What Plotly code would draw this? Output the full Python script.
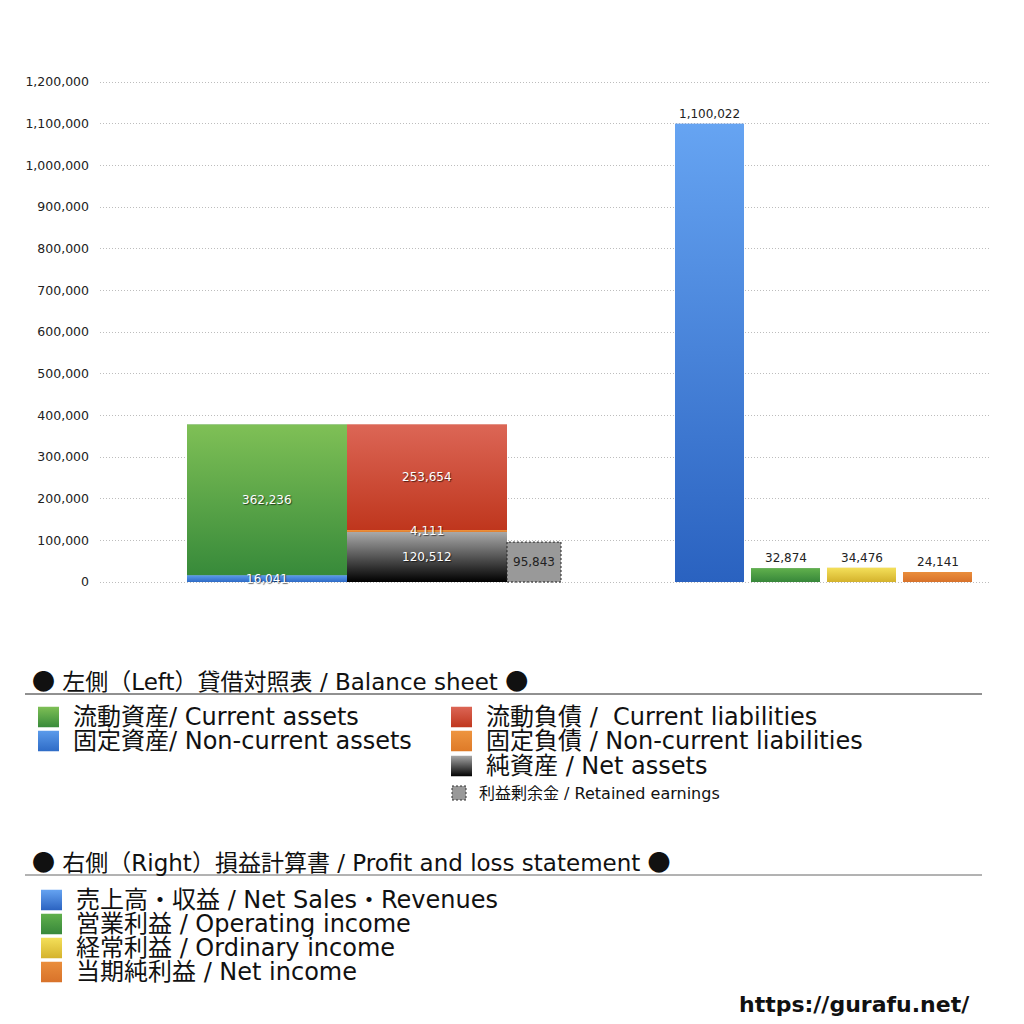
import base64
import numpy as np
import plotly.graph_objects as go

# Data (values in the chart)
bs_assets_labels = ["固定資産/ Non-current assets", "流動資産/ Current assets"]
bs_assets_values = [16041, 362236]
bs_liab_labels = ["純資産 / Net assets", "固定負債 / Non-current liabilities", "流動負債 /  Current liabilities"]
bs_liab_values = [120512, 4111, 253654]
retained_label = "利益剰余金 / Retained earnings"
retained_value = 95843
pl_labels = ["売上高・収益 / Net Sales・Revenues", "営業利益 / Operating income",
             "経常利益 / Ordinary income", "当期純利益 / Net income"]
pl_values = [1100022, 32874, 34476, 24141]
y_ticks = list(range(0, 1200001, 100000))

# Styles: (top colour, bottom colour) of each gradient
FONT = "DejaVu Sans, Noto Sans CJK JP"
g_assets = [("#5b9beb", "#2e6bc6"), ("#7fc056", "#378a3a")]
g_liab = [("#aaaaaa", "#000000"), ("#ee9540", "#de7a28"), ("#dc6656", "#bf361d")]
c_retained = "#999999"
g_pl = [("#66a4f2", "#2a62c0"), ("#60b04c", "#37873a"), ("#f4e05a", "#d4b22c"), ("#ea8e3c", "#d8722a")]

# page body has an 8px margin, so the figure is 1008px and positions are shifted
OFF = 8
W = H = 1024 - 2 * OFF


def px(x):
    return (x - OFF) / W


def py(y):
    return 1 - (y - OFF) / H


def grad(top, bottom):
    svg = ('<svg xmlns="http://www.w3.org/2000/svg" viewBox="0 0 1 1" preserveAspectRatio="none">'
           '<defs><linearGradient id="g" x1="0" y1="0" x2="0" y2="1">'
           f'<stop offset="0" stop-color="{top}"/><stop offset="1" stop-color="{bottom}"/>'
           '</linearGradient></defs><rect x="0" y="0" width="1" height="1" fill="url(#g)"/></svg>')
    return "data:image/svg+xml;base64," + base64.b64encode(svg.encode()).decode()


def mid(g):
    a = [int(g[0][i:i + 2], 16) for i in (1, 3, 5)]
    b = [int(g[1][i:i + 2], 16) for i in (1, 3, 5)]
    return "#" + "".join(f"{(p + q) // 2:02x}" for p, q in zip(a, b))


# x axis expressed in pixel-like layout units
x_assets, w_big = 267, 160
x_liab = 427
x_ret, w_ret = 534, 54
x_pl = [709.5, 785.5, 861.5, 937.5]
w_pl = 69

# y axis: 0 at 582px, 1,200,000 at 82px, padded a little so the end gridlines show
y_max = 1200000
pad = y_max * 4 / 500

fig = go.Figure()

NUMFONT = "DejaVu Sans"
white_txt = dict(color="white", size=12, family=NUMFONT, shadow="1px 1px 1px rgba(0,0,0,0.6)")
dark_txt = dict(color="#222", size=12, family=NUMFONT)


def bar(xc, w, v, b, g, name, label_font, outside=False):
    fig.add_trace(go.Bar(x=[xc], y=[v], base=[b], width=[w], marker=dict(color=mid(g), line_width=0),
                         name=name, showlegend=False, hoverinfo="skip"))
    # gradient fill laid over the bar, on the same axes
    fig.add_layout_image(source=grad(*g), xref="x", yref="y", x=xc - w / 2, y=b + v, sizex=w, sizey=v,
                         xanchor="left", yanchor="top", sizing="stretch", layer="above")
    if outside:
        fig.add_annotation(x=xc, y=b + v, xref="x", yref="y", text=f"{v:,}", showarrow=False,
                           yanchor="bottom", yshift=1, font=label_font)
    else:
        fig.add_annotation(x=xc, y=b + v / 2, xref="x", yref="y", text=f"{v:,}", showarrow=False,
                           yanchor="middle", font=label_font)


# assets stack
base = np.concatenate([[0], np.cumsum(bs_assets_values)[:-1]])
for v, b, g, n in zip(bs_assets_values, base, g_assets, bs_assets_labels):
    bar(x_assets, w_big, v, b, g, n, white_txt)

# liabilities + net assets stack
base = np.concatenate([[0], np.cumsum(bs_liab_values)[:-1]])
for v, b, g, n in zip(bs_liab_values, base, g_liab, bs_liab_labels):
    bar(x_liab, w_big, v, b, g, n, white_txt)

# retained earnings (flat grey, dashed outline)
fig.add_trace(go.Bar(x=[x_ret], y=[retained_value], width=[w_ret], marker=dict(color=c_retained, line_width=0),
                     text=[f"{retained_value:,}"], textposition="inside", insidetextanchor="middle",
                     constraintext="none", textfont=dark_txt,
                     name=retained_label, showlegend=False, hoverinfo="skip"))
fig.add_shape(type="rect", xref="x", yref="y", x0=x_ret - w_ret / 2, x1=x_ret + w_ret / 2,
              y0=0, y1=retained_value, line=dict(color="#222", width=1, dash="2px,2px"))

# profit and loss
for xc, v, g, n in zip(x_pl, pl_values, g_pl, pl_labels):
    bar(xc, w_pl, v, 0, g, n, dark_txt, outside=True)

fig.update_layout(
    width=W, height=H, margin=dict(l=0, r=0, t=0, b=0),
    paper_bgcolor="white", plot_bgcolor="white",
    barmode="overlay", font=dict(family=FONT, color="#222"),
    xaxis=dict(domain=[px(100), px(990)], range=[100, 990], showticklabels=False, showgrid=False,
               zeroline=False, fixedrange=True),
    yaxis=dict(domain=[py(586), py(78)], range=[-pad, y_max + pad], tickvals=y_ticks, tickformat=",d",
               showgrid=True, gridcolor="#bdbdbd", griddash="1px,2px", gridwidth=1, zeroline=False,
               tickfont=dict(size=12.5, color="#222", family=NUMFONT), ticklabelstandoff=10,
               automargin=False),
)

DOT = '<span style="font-family:Noto Sans CJK JP">●</span>'


# custom legend
def header(text, y, line_color):
    fig.add_annotation(x=px(30), y=py(y), xref="paper", yref="paper", text=f"{DOT} {text} {DOT}",
                       showarrow=False, xanchor="left", yanchor="middle", font=dict(size=23, color="#111"))
    fig.add_shape(type="line", xref="paper", yref="paper", x0=px(25), x1=px(982),
                  y0=py(y + 14), y1=py(y + 14), line=dict(color=line_color, width=1))


def item(text, x_sq, y, g, size=24, sq=21):
    fig.add_layout_image(source=grad(*g), xref="paper", yref="paper", x=px(x_sq), y=py(y - sq / 2),
                         sizex=sq / W, sizey=sq / H, xanchor="left", yanchor="top", sizing="stretch",
                         layer="above")
    fig.add_annotation(x=px(x_sq + sq + 12), y=py(y), xref="paper", yref="paper",
                       text=text, showarrow=False, xanchor="left", yanchor="middle",
                       font=dict(size=size, color="#111"))


header("左側（Left）貸借対照表 / Balance sheet", 680, "#222")
item(bs_assets_labels[1], 38, 717, g_assets[1])
item(bs_assets_labels[0], 38, 741, g_assets[0])
item(bs_liab_labels[2], 451, 717, g_liab[2])
item(bs_liab_labels[1], 451, 741, g_liab[1])
item(bs_liab_labels[0], 451, 766, g_liab[0])

# retained earnings legend entry: small dashed grey square
fig.add_shape(type="rect", xref="paper", yref="paper", x0=px(452), x1=px(466), y0=py(800), y1=py(786),
              fillcolor=c_retained, line=dict(color="#333", width=1, dash="2px,2px"))
fig.add_annotation(x=px(477), y=py(793), xref="paper", yref="paper", text=retained_label, showarrow=False,
                   xanchor="left", yanchor="middle", font=dict(size=16, color="#111"))

header("右側（Right）損益計算書 / Profit and loss statement", 861, "#666")
for i, (lab, g) in enumerate(zip(pl_labels, g_pl)):
    item(lab, 41, 900 + 24 * i, g)

fig.add_annotation(x=px(972), y=py(1004), xref="paper", yref="paper", text="<b>https://gurafu.net/</b>",
                   showarrow=False, xanchor="right", yanchor="middle",
                   font=dict(size=22, color="#111", family="DejaVu Sans"))

fig.write_html("out.html")
